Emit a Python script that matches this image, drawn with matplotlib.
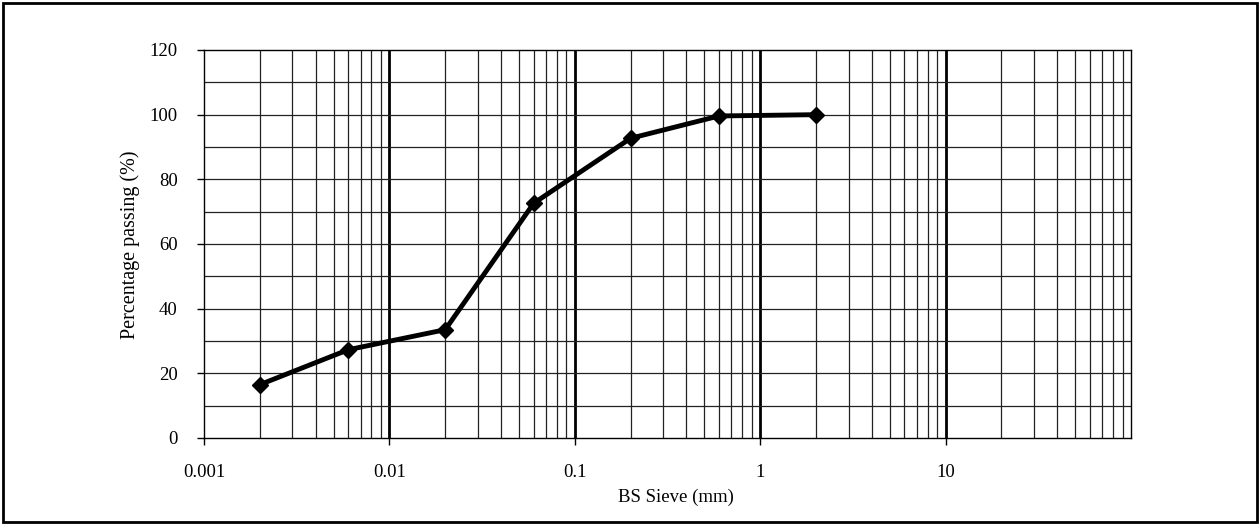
import matplotlib
matplotlib.use("Agg")
import matplotlib.pyplot as plt
from matplotlib.patches import Rectangle
import numpy as np

sieve_mm = [0.002, 0.006, 0.02, 0.06, 0.2, 0.6, 2.0]
passing = [16.5, 27.3, 33.5, 72.6, 92.7, 99.6, 100.0]
x_tick_vals = [0.001, 0.01, 0.1, 1, 10]
x_tick_labels = ["0.001", "0.01", "0.1", "1", "10"]
y_ticks = [0, 20, 40, 60, 80, 100, 120]

plt.rcParams['font.family'] = ['Liberation Serif', 'DejaVu Serif']

fig = plt.figure(figsize=(12.6, 5.25), dpi=100)
ax = fig.add_axes([204/1260, 1-438/525, (1131-204)/1260, (438-50)/525])

ax.set_xscale('log')
ax.set_xlim(0.001, 100)
ax.set_ylim(0, 120)

# grid lines
for dec in [0.001, 0.01, 0.1, 1, 10]:
    for m in range(2, 10):
        ax.axvline(dec*m, color='#222222', lw=0.9, zorder=1)
for dec in [0.01, 0.1, 1, 10]:
    ax.axvline(dec, color='black', lw=2.0, zorder=1)
for y in range(10, 120, 10):
    ax.axhline(y, color='#222222', lw=0.9, zorder=1)

ax.plot(sieve_mm, passing, color='black', lw=3.5, marker='D', ms=8.5,
        markerfacecolor='black', zorder=3)

ax.set_xticks(x_tick_vals)
ax.set_xticklabels(x_tick_labels)
ax.xaxis.set_minor_locator(matplotlib.ticker.NullLocator())
ax.set_yticks(y_ticks)
ax.tick_params(axis='both', labelsize=13.5, direction='out', length=5, width=1, color='black')
ax.tick_params(axis='x', pad=14)
ax.tick_params(axis='y', pad=14)

for s in ax.spines.values():
    s.set_linewidth(1.0)
    s.set_color('black')

ax.set_xlabel("BS Sieve (mm)", fontsize=13.5)
ax.xaxis.set_label_coords((676-204)/927, -(489-438)/388)
ax.set_ylabel("Percentage passing (%)", fontsize=14.5)
ax.yaxis.set_label_coords(-(204-140)/927, (438-245)/388)

fig.patches.append(Rectangle((3/1260, 3/525), 1254/1260, 519/525, transform=fig.transFigure,
                             fill=False, edgecolor='black', lw=2))

fig.savefig("out.png", dpi=100)
